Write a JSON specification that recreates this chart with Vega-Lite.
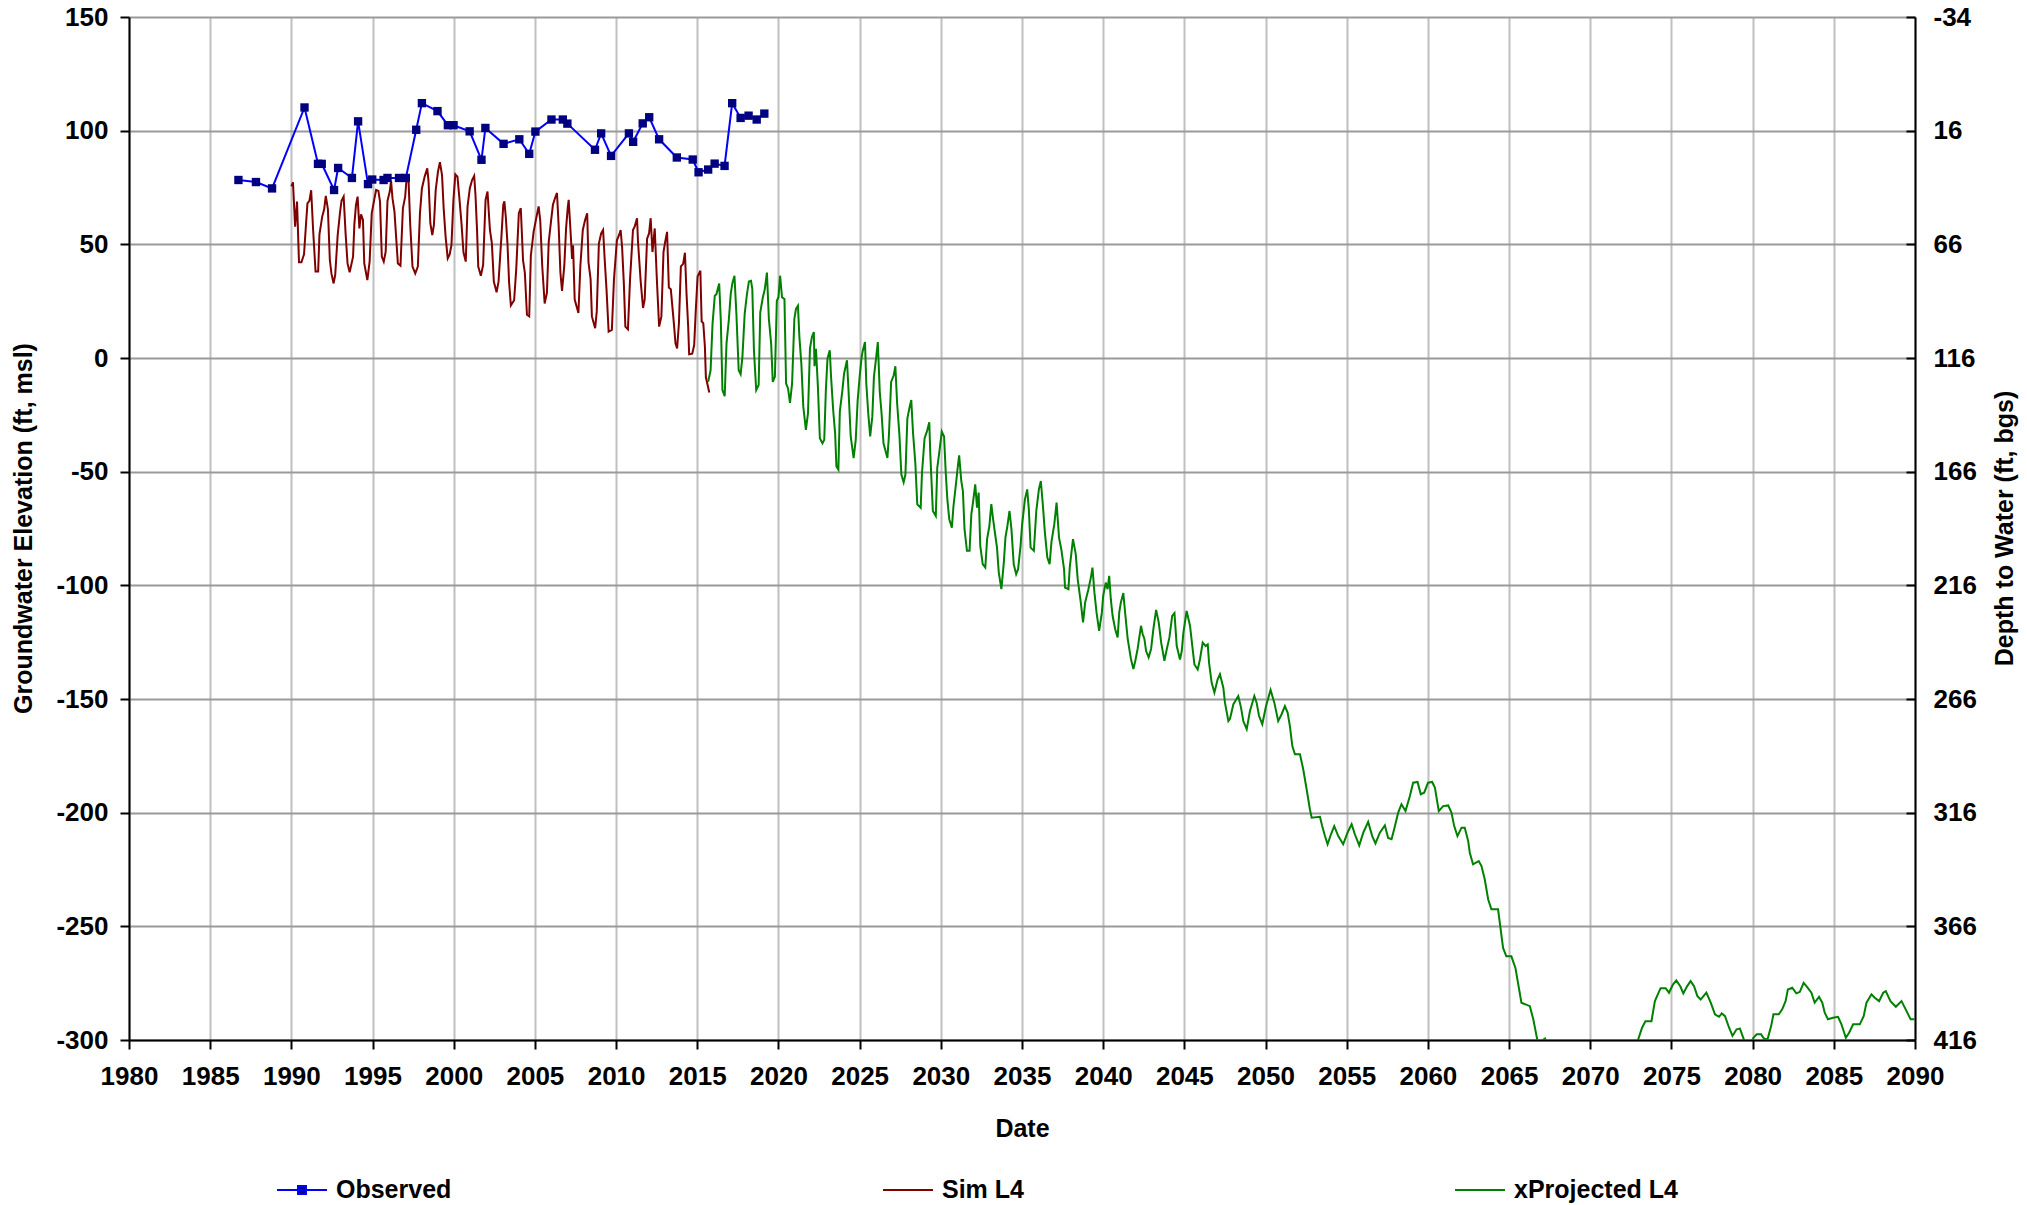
{
  "$schema": "https://vega.github.io/schema/vega-lite/v6.json",
  "autosize": {"type": "none"},
  "width": 1786,
  "height": 1023,
  "padding": {"left": 129, "top": 17, "right": 112, "bottom": 165},
  "background": "white",
  "config": {
    "font": "Liberation Sans",
    "view": {"stroke": null},
    "axis": {
      "labelFont": "Liberation Sans", "labelFontSize": 26, "labelFontWeight": "bold", "labelColor": "black",
      "titleFont": "Liberation Sans", "titleFontSize": 25, "titleFontWeight": "bold", "titleColor": "black",
      "domainColor": "black", "domainWidth": 2, "tickColor": "black", "tickWidth": 2, "tickSize": 9
    }
  },
  "datasets": {
    "obs": [
      {"year":1986.74,"elev":78.3},{"year":1987.82,"elev":77.4},{"year":1988.81,"elev":74.6},{"year":1990.81,"elev":110.2},
      {"year":1991.64,"elev":85.4},{"year":1991.87,"elev":85.4},{"year":1992.63,"elev":73.9},{"year":1992.88,"elev":83.6},
      {"year":1993.73,"elev":79.2},{"year":1994.11,"elev":104.1},{"year":1994.72,"elev":76.5},{"year":1994.98,"elev":78.5},
      {"year":1995.68,"elev":78.3},{"year":1995.92,"elev":79.2},{"year":1996.63,"elev":79.2},{"year":1997.05,"elev":79.2},
      {"year":1997.69,"elev":100.4},{"year":1998.04,"elev":112.1},{"year":1999.0,"elev":108.6},{"year":1999.64,"elev":102.4},
      {"year":1999.99,"elev":102.4},{"year":2000.98,"elev":99.7},{"year":2001.71,"elev":87.2},{"year":2001.95,"elev":101.2},
      {"year":2003.07,"elev":94.2},{"year":2004.04,"elev":96.2},{"year":2004.65,"elev":89.8},{"year":2005.03,"elev":99.6},
      {"year":2006.02,"elev":104.9},{"year":2006.72,"elev":104.9},{"year":2007.0,"elev":103.1},{"year":2008.7,"elev":91.6},
      {"year":2009.08,"elev":98.8},{"year":2009.69,"elev":88.9},{"year":2010.79,"elev":98.8},{"year":2011.05,"elev":95.1},
      {"year":2011.64,"elev":103.2},{"year":2012.04,"elev":105.9},{"year":2012.65,"elev":96.2},{"year":2013.74,"elev":88.2},
      {"year":2014.72,"elev":87.3},{"year":2015.08,"elev":81.7},{"year":2015.67,"elev":82.9},{"year":2016.07,"elev":85.5},
      {"year":2016.68,"elev":84.5},{"year":2017.15,"elev":112.1},{"year":2017.67,"elev":105.6},{"year":2018.16,"elev":106.6},
      {"year":2018.66,"elev":104.9},{"year":2019.13,"elev":107.5}
    ],
    "sim": [
      {"year":1990.0,"elev":75.5},{"year":1990.1,"elev":77.3},{"year":1990.23,"elev":57.8},{"year":1990.35,"elev":68.8},
      {"year":1990.47,"elev":42.1},{"year":1990.62,"elev":42.1},{"year":1990.78,"elev":45.6},{"year":1990.91,"elev":59.7},
      {"year":1990.99,"elev":68},{"year":1991.11,"elev":69.1},{"year":1991.22,"elev":73.8},{"year":1991.34,"elev":56.3},
      {"year":1991.49,"elev":38},{"year":1991.65,"elev":38},{"year":1991.73,"elev":54.4},{"year":1991.9,"elev":62.2},
      {"year":1992.02,"elev":65.4},{"year":1992.12,"elev":71.3},{"year":1992.25,"elev":65.5},{"year":1992.37,"elev":43.1},
      {"year":1992.47,"elev":37.1},{"year":1992.6,"elev":32.8},{"year":1992.7,"elev":36.5},{"year":1992.85,"elev":53.8},
      {"year":1992.99,"elev":63.6},{"year":1993.09,"elev":69.2},{"year":1993.22,"elev":71},{"year":1993.34,"elev":54.8},
      {"year":1993.46,"elev":41.6},{"year":1993.59,"elev":37.7},{"year":1993.8,"elev":44.6},{"year":1993.88,"elev":58.8},
      {"year":1993.98,"elev":67.3},{"year":1994.08,"elev":71},{"year":1994.19,"elev":57},{"year":1994.29,"elev":63.2},
      {"year":1994.41,"elev":60.7},{"year":1994.49,"elev":41.6},{"year":1994.68,"elev":34.3},{"year":1994.82,"elev":42.4},
      {"year":1994.95,"elev":63.6},{"year":1995.11,"elev":69.9},{"year":1995.22,"elev":73.9},{"year":1995.36,"elev":73.5},
      {"year":1995.46,"elev":68.8},{"year":1995.57,"elev":44.6},{"year":1995.69,"elev":42.4},{"year":1995.81,"elev":46.8},
      {"year":1995.92,"elev":69.1},{"year":1996.06,"elev":73.2},{"year":1996.14,"elev":77.9},{"year":1996.23,"elev":70.2},
      {"year":1996.35,"elev":64.4},{"year":1996.56,"elev":41.6},{"year":1996.72,"elev":40.6},{"year":1996.87,"elev":65.8},
      {"year":1997.01,"elev":71},{"year":1997.09,"elev":78.3},{"year":1997.22,"elev":77.6},{"year":1997.32,"elev":58.8},
      {"year":1997.46,"elev":40.2},{"year":1997.63,"elev":37.2},{"year":1997.79,"elev":40.2},{"year":1997.92,"elev":63.6},
      {"year":1998.04,"elev":74.6},{"year":1998.21,"elev":79.8},{"year":1998.37,"elev":83.4},{"year":1998.45,"elev":77.6},
      {"year":1998.56,"elev":59.2},{"year":1998.68,"elev":54.1},{"year":1998.78,"elev":58.5},{"year":1998.89,"elev":73.9},
      {"year":1999.03,"elev":82},{"year":1999.15,"elev":86.1},{"year":1999.28,"elev":80.5},{"year":1999.38,"elev":65.8},
      {"year":1999.5,"elev":53.4},{"year":1999.63,"elev":43.8},{"year":1999.75,"elev":45.6},{"year":1999.86,"elev":49.7},
      {"year":1999.98,"elev":69.5},{"year":2000.1,"elev":80.8},{"year":2000.23,"elev":79.8},{"year":2000.35,"elev":70.2},
      {"year":2000.47,"elev":60},{"year":2000.6,"elev":46.5},{"year":2000.74,"elev":42.4},{"year":2000.85,"elev":66.6},
      {"year":2000.99,"elev":74.6},{"year":2001.13,"elev":78.3},{"year":2001.26,"elev":80.1},{"year":2001.34,"elev":71.7},
      {"year":2001.44,"elev":55.6},{"year":2001.51,"elev":40.2},{"year":2001.67,"elev":36.2},{"year":2001.81,"elev":40.9},
      {"year":2001.96,"elev":69.5},{"year":2002.08,"elev":73.2},{"year":2002.23,"elev":56.3},{"year":2002.35,"elev":50.4},
      {"year":2002.47,"elev":33.6},{"year":2002.64,"elev":28.9},{"year":2002.76,"elev":33.6},{"year":2002.95,"elev":54.8},
      {"year":2003.05,"elev":67.3},{"year":2003.12,"elev":68.9},{"year":2003.21,"elev":61.8},{"year":2003.31,"elev":50.3},
      {"year":2003.41,"elev":33.2},{"year":2003.52,"elev":23.1},{"year":2003.72,"elev":25.4},{"year":2003.85,"elev":39.1},
      {"year":2004.01,"elev":63.7},{"year":2004.13,"elev":65.9},{"year":2004.27,"elev":42.9},{"year":2004.38,"elev":37.6},
      {"year":2004.51,"elev":19},{"year":2004.65,"elev":18.3},{"year":2004.75,"elev":45.1},{"year":2004.92,"elev":55.5},
      {"year":2005.08,"elev":61.5},{"year":2005.23,"elev":66.7},{"year":2005.33,"elev":60.3},{"year":2005.45,"elev":40.6},
      {"year":2005.6,"elev":24},{"year":2005.74,"elev":28.7},{"year":2005.85,"elev":51},{"year":2005.99,"elev":60},
      {"year":2006.11,"elev":67.4},{"year":2006.24,"elev":70.4},{"year":2006.36,"elev":72.6},{"year":2006.46,"elev":58.5},
      {"year":2006.57,"elev":37.6},{"year":2006.67,"elev":29.5},{"year":2006.81,"elev":40.6},{"year":2006.92,"elev":57},
      {"year":2007.02,"elev":65.9},{"year":2007.08,"elev":69.6},{"year":2007.19,"elev":56.3},{"year":2007.29,"elev":43.6},
      {"year":2007.35,"elev":49.6},{"year":2007.45,"elev":25.7},{"year":2007.68,"elev":19.8},{"year":2007.8,"elev":40.6},
      {"year":2007.95,"elev":56.3},{"year":2008.09,"elev":60.7},{"year":2008.22,"elev":63.7},{"year":2008.3,"elev":42.1},
      {"year":2008.43,"elev":34.7},{"year":2008.51,"elev":18.3},{"year":2008.71,"elev":13.1},{"year":2008.81,"elev":20.5},
      {"year":2008.94,"elev":50.3},{"year":2009.08,"elev":54.8},{"year":2009.2,"elev":56.3},{"year":2009.29,"elev":44.3},
      {"year":2009.41,"elev":30.2},{"year":2009.54,"elev":11.6},{"year":2009.74,"elev":12.4},{"year":2009.87,"elev":34.7},
      {"year":2010.05,"elev":51.8},{"year":2010.18,"elev":54},{"year":2010.28,"elev":56.3},{"year":2010.37,"elev":48.8},
      {"year":2010.48,"elev":32.4},{"year":2010.57,"elev":13.8},{"year":2010.73,"elev":12.6},{"year":2010.86,"elev":34.7},
      {"year":2011.04,"elev":56.3},{"year":2011.14,"elev":57.7},{"year":2011.29,"elev":61.5},{"year":2011.35,"elev":51},
      {"year":2011.52,"elev":33.2},{"year":2011.66,"elev":22},{"year":2011.76,"elev":25.7},{"year":2011.91,"elev":52.5},
      {"year":2012.03,"elev":54.8},{"year":2012.13,"elev":61.5},{"year":2012.24,"elev":46.6},{"year":2012.38,"elev":57},
      {"year":2012.51,"elev":34.7},{"year":2012.65,"elev":13.8},{"year":2012.79,"elev":18.3},{"year":2012.92,"elev":46.6},
      {"year":2013.02,"elev":51},{"year":2013.14,"elev":55.5},{"year":2013.25,"elev":31},{"year":2013.37,"elev":30.2},
      {"year":2013.54,"elev":16.8},{"year":2013.66,"elev":6.4},{"year":2013.76,"elev":4.2},{"year":2013.87,"elev":15.3},
      {"year":2013.99,"elev":40.3},{"year":2014.13,"elev":41.4},{"year":2014.24,"elev":46.3},{"year":2014.34,"elev":28},
      {"year":2014.44,"elev":13.8},{"year":2014.5,"elev":1.6},{"year":2014.69,"elev":1.9},{"year":2014.81,"elev":5.7},
      {"year":2014.9,"elev":19.8},{"year":2015.02,"elev":35.9},{"year":2015.19,"elev":38.4},{"year":2015.27,"elev":16.1},
      {"year":2015.37,"elev":15.3},{"year":2015.47,"elev":4.9},{"year":2015.53,"elev":-8.5},{"year":2015.74,"elev":-15.2}
    ],
    "proj": [
      {"year":2015.67,"elev":-10.5},{"year":2015.82,"elev":-5.4},{"year":2015.94,"elev":15},{"year":2016.08,"elev":27.4},
      {"year":2016.18,"elev":28.1},{"year":2016.35,"elev":32.8},{"year":2016.45,"elev":16.5},{"year":2016.55,"elev":-14.1},
      {"year":2016.69,"elev":-16.8},{"year":2016.8,"elev":6.3},{"year":2016.94,"elev":16.5},{"year":2017.06,"elev":28.1},
      {"year":2017.16,"elev":32.8},{"year":2017.29,"elev":36.2},{"year":2017.41,"elev":19.4},{"year":2017.55,"elev":-5.4},
      {"year":2017.67,"elev":-7.1},{"year":2017.78,"elev":0.4},{"year":2017.92,"elev":19.4},{"year":2018.06,"elev":28.1},
      {"year":2018.18,"elev":33.7},{"year":2018.31,"elev":34},{"year":2018.39,"elev":30.3},{"year":2018.49,"elev":3.4},
      {"year":2018.63,"elev":-14.1},{"year":2018.78,"elev":-11.9},{"year":2018.88,"elev":20.1},{"year":2019.04,"elev":26.7},
      {"year":2019.16,"elev":30.3},{"year":2019.29,"elev":37.6},{"year":2019.41,"elev":17.2},{"year":2019.55,"elev":6.3},
      {"year":2019.65,"elev":-10.5},{"year":2019.78,"elev":-8.3},{"year":2019.9,"elev":25.2},{"year":2020.0,"elev":26.7},
      {"year":2020.1,"elev":36.2},{"year":2020.22,"elev":26.7},{"year":2020.37,"elev":25.9},{"year":2020.47,"elev":-11.2},
      {"year":2020.59,"elev":-13.4},{"year":2020.71,"elev":-19.7},{"year":2020.84,"elev":-11.2},{"year":2020.98,"elev":17.2},
      {"year":2021.08,"elev":21.6},{"year":2021.2,"elev":23},{"year":2021.29,"elev":9.2},{"year":2021.41,"elev":-2.5},
      {"year":2021.53,"elev":-21.4},{"year":2021.69,"elev":-31.6},{"year":2021.82,"elev":-24.3},{"year":2021.94,"elev":4.1},
      {"year":2022.06,"elev":9.2},{"year":2022.18,"elev":11.4},{"year":2022.22,"elev":-3.6},{"year":2022.31,"elev":4.1},
      {"year":2022.43,"elev":-12.7},{"year":2022.55,"elev":-35.3},{"year":2022.71,"elev":-37.5},{"year":2022.82,"elev":-36},
      {"year":2022.92,"elev":-14.1},{"year":2023.02,"elev":-0.3},{"year":2023.16,"elev":3.4},{"year":2023.24,"elev":-8.3},
      {"year":2023.37,"elev":-22.9},{"year":2023.49,"elev":-33.1},{"year":2023.57,"elev":-47.7},{"year":2023.69,"elev":-49.1},
      {"year":2023.78,"elev":-23.6},{"year":2023.94,"elev":-14.1},{"year":2024.04,"elev":-6.9},{"year":2024.22,"elev":-1},
      {"year":2024.31,"elev":-13.4},{"year":2024.45,"elev":-34.5},{"year":2024.63,"elev":-44},{"year":2024.76,"elev":-36},
      {"year":2024.88,"elev":-18.5},{"year":2025.0,"elev":-8.3},{"year":2025.12,"elev":0.4},{"year":2025.2,"elev":3.4},
      {"year":2025.33,"elev":7},{"year":2025.41,"elev":-11.2},{"year":2025.53,"elev":-24.3},{"year":2025.65,"elev":-34.5},
      {"year":2025.78,"elev":-25.8},{"year":2025.88,"elev":-8.3},{"year":2026.02,"elev":0.4},{"year":2026.12,"elev":7},
      {"year":2026.24,"elev":-14.9},{"year":2026.35,"elev":-24.3},{"year":2026.47,"elev":-37.5},{"year":2026.71,"elev":-44},
      {"year":2026.8,"elev":-34.5},{"year":2026.94,"elev":-10.5},{"year":2027.1,"elev":-7.6},{"year":2027.2,"elev":-3.6},
      {"year":2027.31,"elev":-20},{"year":2027.45,"elev":-33.8},{"year":2027.57,"elev":-51.3},{"year":2027.71,"elev":-54.7},
      {"year":2027.82,"elev":-51.3},{"year":2027.94,"elev":-26.5},{"year":2028.06,"elev":-22.2},{"year":2028.18,"elev":-18.5},
      {"year":2028.29,"elev":-33.1},{"year":2028.43,"elev":-46.2},{"year":2028.55,"elev":-64.4},{"year":2028.76,"elev":-65.9},
      {"year":2028.84,"elev":-50.6},{"year":2029.0,"elev":-35.3},{"year":2029.14,"elev":-32.4},{"year":2029.29,"elev":-28.3},
      {"year":2029.35,"elev":-41.8},{"year":2029.51,"elev":-67.3},{"year":2029.69,"elev":-69.5},{"year":2029.78,"elev":-48.4},
      {"year":2029.9,"elev":-41.8},{"year":2030.06,"elev":-32.4},{"year":2030.2,"elev":-34.5},{"year":2030.3,"elev":-50},
      {"year":2030.4,"elev":-62},{"year":2030.52,"elev":-70.9},{"year":2030.68,"elev":-74.6},{"year":2030.78,"elev":-65.1},
      {"year":2030.93,"elev":-55.6},{"year":2031.05,"elev":-47.5},{"year":2031.13,"elev":-42.8},{"year":2031.26,"elev":-54.1},
      {"year":2031.36,"elev":-58.5},{"year":2031.46,"elev":-75.3},{"year":2031.61,"elev":-84.8},{"year":2031.77,"elev":-84.8},
      {"year":2031.88,"elev":-68.7},{"year":2031.98,"elev":-63.6},{"year":2032.12,"elev":-55.6},{"year":2032.23,"elev":-65.8},
      {"year":2032.33,"elev":-59.2},{"year":2032.43,"elev":-82.7},{"year":2032.58,"elev":-90.7},{"year":2032.74,"elev":-92.2},
      {"year":2032.85,"elev":-79.7},{"year":2032.99,"elev":-73.9},{"year":2033.11,"elev":-64.3},{"year":2033.22,"elev":-70.9},
      {"year":2033.36,"elev":-78.3},{"year":2033.46,"elev":-83.4},{"year":2033.57,"elev":-94.4},{"year":2033.73,"elev":-101.7},
      {"year":2033.88,"elev":-90},{"year":2033.98,"elev":-79},{"year":2034.1,"elev":-73.9},{"year":2034.23,"elev":-67.3},
      {"year":2034.35,"elev":-75.3},{"year":2034.49,"elev":-90.7},{"year":2034.64,"elev":-95.1},{"year":2034.76,"elev":-92.9},
      {"year":2034.91,"elev":-82.7},{"year":2035.01,"elev":-73.1},{"year":2035.18,"elev":-62.2},{"year":2035.32,"elev":-57.8},
      {"year":2035.42,"elev":-66.5},{"year":2035.53,"elev":-83.4},{"year":2035.73,"elev":-84.8},{"year":2035.88,"elev":-67.3},
      {"year":2036.04,"elev":-57.8},{"year":2036.16,"elev":-54.1},{"year":2036.29,"elev":-65.1},{"year":2036.41,"elev":-76.8},
      {"year":2036.56,"elev":-87.8},{"year":2036.7,"elev":-90.7},{"year":2036.82,"elev":-80.5},{"year":2036.99,"elev":-73.1},
      {"year":2037.13,"elev":-63.6},{"year":2037.28,"elev":-79},{"year":2037.42,"elev":-84.1},{"year":2037.59,"elev":-92.9},
      {"year":2037.65,"elev":-101},{"year":2037.86,"elev":-101.7},{"year":2037.94,"elev":-92.2},{"year":2038.14,"elev":-79.7},
      {"year":2038.31,"elev":-86.3},{"year":2038.43,"elev":-97.3},{"year":2038.62,"elev":-107.5},{"year":2038.76,"elev":-116.3},
      {"year":2038.89,"elev":-107.5},{"year":2039.09,"elev":-101.7},{"year":2039.24,"elev":-96.6},{"year":2039.34,"elev":-92.2},
      {"year":2039.46,"elev":-103.1},{"year":2039.59,"elev":-111.9},{"year":2039.75,"elev":-120},{"year":2039.92,"elev":-111.9},
      {"year":2040.0,"elev":-104.6},{"year":2040.16,"elev":-98.8},{"year":2040.27,"elev":-101.7},{"year":2040.37,"elev":-95.8},
      {"year":2040.47,"elev":-106.1},{"year":2040.58,"elev":-113.4},{"year":2040.74,"elev":-119.3},{"year":2040.89,"elev":-122.9},
      {"year":2040.99,"elev":-111.9},{"year":2041.09,"elev":-107.5},{"year":2041.24,"elev":-103.4},{"year":2041.36,"elev":-112.7},
      {"year":2041.51,"elev":-123.6},{"year":2041.71,"elev":-132.4},{"year":2041.86,"elev":-136.8},{"year":2041.98,"elev":-133.2},
      {"year":2042.12,"elev":-128},{"year":2042.33,"elev":-117.8},{"year":2042.43,"elev":-121.4},{"year":2042.54,"elev":-123.6},
      {"year":2042.64,"elev":-128.8},{"year":2042.8,"elev":-131.7},{"year":2042.95,"elev":-128},{"year":2043.09,"elev":-119.3},
      {"year":2043.26,"elev":-110.8},{"year":2043.42,"elev":-116.3},{"year":2043.57,"elev":-125.1},{"year":2043.77,"elev":-133.2},
      {"year":2043.92,"elev":-128},{"year":2044.08,"elev":-122.9},{"year":2044.25,"elev":-113.4},{"year":2044.39,"elev":-112.2},
      {"year":2044.53,"elev":-126.7},{"year":2044.73,"elev":-132.6},{"year":2044.84,"elev":-128.9},{"year":2044.94,"elev":-120.8},
      {"year":2045.14,"elev":-111.3},{"year":2045.35,"elev":-117.9},{"year":2045.49,"elev":-126.7},{"year":2045.62,"elev":-134.8},
      {"year":2045.82,"elev":-137},{"year":2045.96,"elev":-132.6},{"year":2046.13,"elev":-125.2},{"year":2046.31,"elev":-126.7},
      {"year":2046.44,"elev":-126},{"year":2046.52,"elev":-134},{"year":2046.68,"elev":-142.8},{"year":2046.85,"elev":-147.2},
      {"year":2047.05,"elev":-141.3},{"year":2047.19,"elev":-139.1},{"year":2047.4,"elev":-145},{"year":2047.5,"elev":-151.6},
      {"year":2047.71,"elev":-159.7},{"year":2047.81,"elev":-158.7},{"year":2048.02,"elev":-152.3},{"year":2048.32,"elev":-148.7},
      {"year":2048.49,"elev":-153.8},{"year":2048.63,"elev":-159.7},{"year":2048.84,"elev":-163.3},{"year":2049.04,"elev":-155.3},
      {"year":2049.31,"elev":-148.7},{"year":2049.45,"elev":-151.6},{"year":2049.6,"elev":-157.5},{"year":2049.8,"elev":-161.1},
      {"year":2050.03,"elev":-153.1},{"year":2050.31,"elev":-146},{"year":2050.54,"elev":-151.6},{"year":2050.78,"elev":-159.7},
      {"year":2050.99,"elev":-156.7},{"year":2051.19,"elev":-153.1},{"year":2051.36,"elev":-156},{"year":2051.5,"elev":-161.9},
      {"year":2051.65,"elev":-170.7},{"year":2051.81,"elev":-174.3},{"year":2052.12,"elev":-174.3},{"year":2052.32,"elev":-180.9},
      {"year":2052.53,"elev":-189.7},{"year":2052.73,"elev":-198.5},{"year":2052.84,"elev":-202.2},{"year":2053.35,"elev":-201.8},
      {"year":2053.49,"elev":-205.9},{"year":2053.66,"elev":-210.3},{"year":2053.82,"elev":-213.9},{"year":2054.03,"elev":-209.5},
      {"year":2054.23,"elev":-205.9},{"year":2054.48,"elev":-210.3},{"year":2054.78,"elev":-213.9},{"year":2055.05,"elev":-208.8},
      {"year":2055.3,"elev":-205.1},{"year":2055.5,"elev":-209.5},{"year":2055.77,"elev":-214.4},{"year":2056.02,"elev":-208.8},
      {"year":2056.32,"elev":-204.1},{"year":2056.57,"elev":-210.3},{"year":2056.77,"elev":-213.5},{"year":2057.04,"elev":-208.8},
      {"year":2057.35,"elev":-205.6},{"year":2057.55,"elev":-211.1},{"year":2057.76,"elev":-211.7},{"year":2057.92,"elev":-207.3},
      {"year":2058.17,"elev":-200},{"year":2058.37,"elev":-196.3},{"year":2058.62,"elev":-199.3},{"year":2058.89,"elev":-192.7},
      {"year":2059.09,"elev":-186.8},{"year":2059.36,"elev":-186.5},{"year":2059.56,"elev":-191.9},{"year":2059.77,"elev":-191.2},
      {"year":2060.01,"elev":-186.8},{"year":2060.26,"elev":-186.5},{"year":2060.43,"elev":-189},{"year":2060.67,"elev":-199.3},
      {"year":2060.94,"elev":-197.1},{"year":2061.25,"elev":-196.8},{"year":2061.45,"elev":-200},{"year":2061.62,"elev":-205.9},
      {"year":2061.82,"elev":-210.3},{"year":2062.07,"elev":-206.6},{"year":2062.27,"elev":-206.6},{"year":2062.48,"elev":-212.5},
      {"year":2062.58,"elev":-217.6},{"year":2062.78,"elev":-222.7},{"year":2063.13,"elev":-221.3},{"year":2063.3,"elev":-223.5},
      {"year":2063.5,"elev":-229.3},{"year":2063.71,"elev":-238.1},{"year":2063.91,"elev":-242.5},{"year":2064.32,"elev":-242.5},
      {"year":2064.63,"elev":-259.5},{"year":2064.83,"elev":-263.2},{"year":2065.14,"elev":-263.2},{"year":2065.39,"elev":-268.3},
      {"year":2065.76,"elev":-283.6},{"year":2066.28,"elev":-285.1},{"year":2066.49,"elev":-290.9},{"year":2066.75,"elev":-300.4},
      {"year":2067.0,"elev":-300.4},{"year":2067.21,"elev":-299.4},{"year":2067.45,"elev":-304},{"year":2068.0,"elev":-309},
      {"year":2069.0,"elev":-315},{"year":2070.0,"elev":-318},{"year":2071.0,"elev":-314},{"year":2071.8,"elev":-306},
      {"year":2072.16,"elev":-303.8},{"year":2072.78,"elev":-303.4},{"year":2072.95,"elev":-299.7},{"year":2073.19,"elev":-294.6},
      {"year":2073.4,"elev":-291.7},{"year":2073.77,"elev":-291.7},{"year":2073.98,"elev":-282.9},{"year":2074.33,"elev":-277.2},
      {"year":2074.64,"elev":-277.2},{"year":2074.85,"elev":-279.2},{"year":2075.09,"elev":-275.6},{"year":2075.3,"elev":-273.8},
      {"year":2075.56,"elev":-276.6},{"year":2075.73,"elev":-279.5},{"year":2075.97,"elev":-276.3},{"year":2076.18,"elev":-274.1},
      {"year":2076.39,"elev":-276.3},{"year":2076.6,"elev":-280.7},{"year":2076.8,"elev":-282.2},{"year":2077.01,"elev":-280.4},
      {"year":2077.15,"elev":-279.2},{"year":2077.42,"elev":-283.6},{"year":2077.68,"elev":-288.7},{"year":2077.93,"elev":-289.8},
      {"year":2078.1,"elev":-288.3},{"year":2078.3,"elev":-289.5},{"year":2078.55,"elev":-294.6},{"year":2078.76,"elev":-298.2},
      {"year":2079.01,"elev":-295.3},{"year":2079.22,"elev":-295},{"year":2079.49,"elev":-300.4},{"year":2079.8,"elev":-302.6},
      {"year":2080.05,"elev":-299},{"year":2080.25,"elev":-297.5},{"year":2080.52,"elev":-297.5},{"year":2080.73,"elev":-299.7},
      {"year":2080.93,"elev":-299.4},{"year":2081.14,"elev":-293.9},{"year":2081.28,"elev":-288.7},{"year":2081.61,"elev":-288.7},
      {"year":2081.82,"elev":-286.5},{"year":2082.03,"elev":-282.9},{"year":2082.17,"elev":-277.8},{"year":2082.44,"elev":-277},
      {"year":2082.69,"elev":-279.5},{"year":2082.9,"elev":-278.9},{"year":2083.14,"elev":-274.9},{"year":2083.35,"elev":-276.6},
      {"year":2083.62,"elev":-279.2},{"year":2083.82,"elev":-283.6},{"year":2084.09,"elev":-281},{"year":2084.29,"elev":-283.6},
      {"year":2084.44,"elev":-288},{"year":2084.64,"elev":-290.9},{"year":2084.95,"elev":-290.2},{"year":2085.26,"elev":-289.8},
      {"year":2085.47,"elev":-293.1},{"year":2085.74,"elev":-299},{"year":2085.94,"elev":-296.8},{"year":2086.19,"elev":-293.1},
      {"year":2086.6,"elev":-293.1},{"year":2086.84,"elev":-289.5},{"year":2087.01,"elev":-283.6},{"year":2087.32,"elev":-279.9},
      {"year":2087.52,"elev":-281.4},{"year":2087.79,"elev":-282.9},{"year":2088.04,"elev":-279.2},{"year":2088.2,"elev":-278.5},
      {"year":2088.49,"elev":-282.9},{"year":2088.82,"elev":-285.4},{"year":2089.17,"elev":-282.9},{"year":2089.48,"elev":-287.3},
      {"year":2089.73,"elev":-290.9},{"year":2089.99,"elev":-290.9}
    ],
    "depth": [{"depth": -34}, {"depth": 416}]
  },
  "layer": [
    {
      "encoding": {
        "x": {
          "field": "year", "type": "quantitative",
          "scale": {"domain": [1980, 2090], "nice": false, "zero": false},
          "axis": {
            "title": "Date", "values": [1980,1985,1990,1995,2000,2005,2010,2015,2020,2025,2030,2035,2040,2045,2050,2055,2060,2065,2070,2075,2080,2085,2090],
            "format": "d", "labelPadding": 14, "labelFlush": false, "labelOverlap": false,
            "grid": true, "gridColor": "#c0c0c0", "gridWidth": 2,
            "titleX": 893, "titleY": 88, "titleBaseline": "middle"
          }
        },
        "y": {
          "field": "elev", "type": "quantitative",
          "scale": {"domain": [-300, 150], "nice": false, "zero": false},
          "axis": {
            "title": "Groundwater Elevation (ft, msl)", "values": [-300,-250,-200,-150,-100,-50,0,50,100,150],
            "labelExpr": "replace(datum.label, '−', '-')",
            "labelPadding": 12, "labelFlush": false, "labelOverlap": false,
            "grid": true, "gridColor": "#9a9a9a", "gridWidth": 2,
            "titleX": -106, "titleY": 511, "titleAngle": -90, "titleBaseline": "middle", "titleAlign": "center"
          }
        }
      },
      "layer": [
        {
          "data": {"name": "sim"},
          "mark": {"type": "line", "strokeWidth": 2, "clip": true},
          "encoding": {
            "color": {
              "datum": "Sim L4", "type": "nominal",
              "scale": {"domain": ["Observed", "Sim L4", "xProjected L4"], "range": ["#0000ff", "#800000", "#008000"]},
              "legend": {
                "orient": "none", "legendX": 147, "legendY": 1147, "direction": "horizontal", "columns": 3,
                "columnPadding": 427, "title": null, "symbolType": "stroke", "symbolSize": 2500,
                "symbolStrokeWidth": 2, "labelFont": "Liberation Sans", "labelFontSize": 25,
                "labelFontWeight": "bold", "labelColor": "black", "labelOffset": 8, "labelLimit": 500, "padding": 0,
                "encode": {
                  "symbols": {
                    "update": {
                      "shape": {"signal": "datum.value === 'Observed' ? 'M-1,0H1M-0.16,-0.16H0.16V0.16H-0.16Z' : 'stroke'"},
                      "fill": {"signal": "datum.value === 'Observed' ? '#000080' : 'transparent'"}
                    }
                  }
                }
              }
            }
          }
        },
        {
          "data": {"name": "proj"},
          "mark": {"type": "line", "strokeWidth": 2, "clip": true},
          "encoding": {"color": {"datum": "xProjected L4", "type": "nominal"}}
        },
        {
          "data": {"name": "obs"},
          "mark": {"type": "line", "strokeWidth": 2, "clip": true},
          "encoding": {"color": {"datum": "Observed", "type": "nominal"}}
        },
        {
          "data": {"name": "obs"},
          "mark": {"type": "point", "shape": "square", "filled": true, "size": 70, "color": "#000080", "opacity": 1}
        }
      ]
    },
    {
      "data": {"name": "depth"},
      "mark": {"type": "point", "opacity": 0},
      "encoding": {
        "y": {
          "field": "depth", "type": "quantitative",
          "scale": {"domain": [-34, 416], "reverse": true, "nice": false, "zero": false},
          "axis": {
            "orient": "right", "title": "Depth to Water (ft, bgs)",
            "values": [-34,16,66,116,166,216,266,316,366,416],
            "labelExpr": "replace(datum.label, '−', '-')",
            "grid": false, "tickSize": -9, "labelPadding": 27, "labelFlush": false, "labelOverlap": false,
            "titleX": 89, "titleY": 511, "titleAngle": -90, "titleBaseline": "middle", "titleAlign": "center"
          }
        }
      }
    }
  ],
  "resolve": {"scale": {"y": "independent"}}
}
